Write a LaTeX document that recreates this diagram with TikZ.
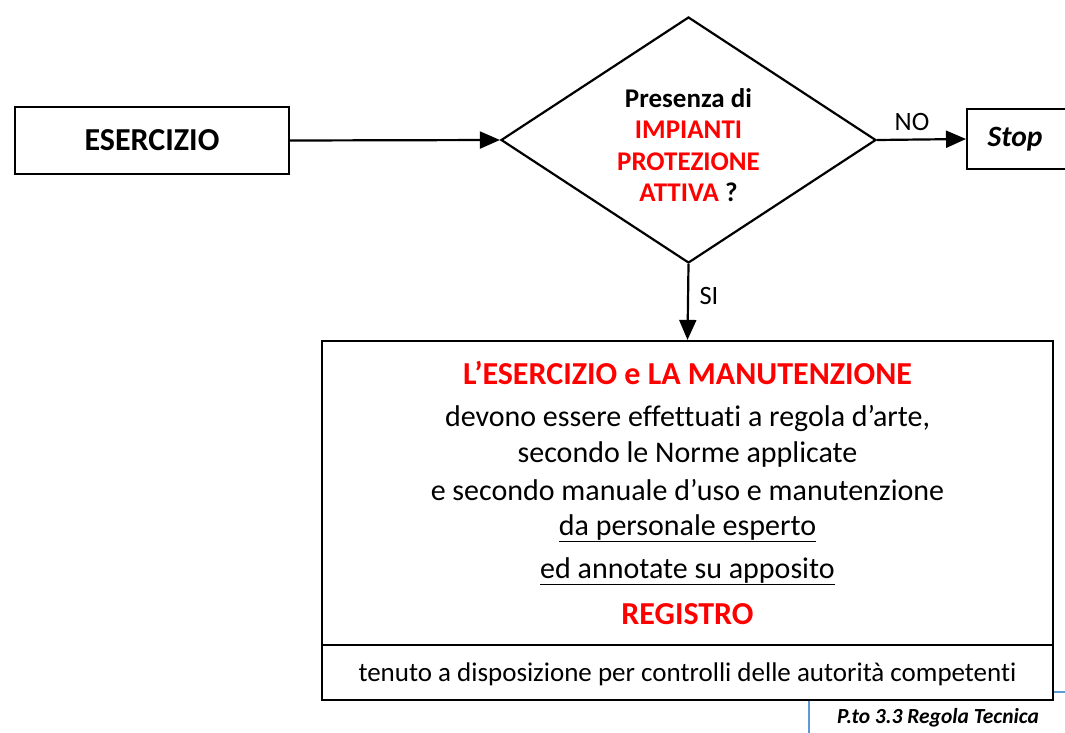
\documentclass[tikz,border=0pt]{standalone}
\usepackage{fontspec}
\setmainfont{Carlito}[Ligatures=NoCommon]
\usetikzlibrary{shapes.geometric,arrows.meta}
\definecolor{myred}{RGB}{255,0,0}
\definecolor{myblue}{RGB}{91,155,213}
\tikzset{
  boxn/.style={draw=black, line width=2.2pt, rectangle, inner sep=0pt},
  flow/.style={line width=2.2pt, -{Triangle[length=20pt,width=17pt]}},
  txt/.style={inner sep=0pt, align=center},
}
\begin{document}
\begin{tikzpicture}[x=1pt,y=-1pt]
\useasboundingbox (0,0) rectangle (1065,733);
% nodes
\node[boxn, minimum width=274pt, minimum height=67pt, font=\fontsize{32}{38}\selectfont\bfseries] (es) at (152,140.5) {ESERCIZIO};
\node[draw=black, line width=2.2pt, diamond, minimum width=375pt, minimum height=246pt, inner sep=0pt] (dq) at (688.5,140) {};
\node[txt, font=\fontsize{27}{31.5}\selectfont\bfseries] (dqt) at (688.5,145) {Presenza di\\ \textcolor{myred}{IMPIANTI}\\ \textcolor{myred}{PROTEZIONE}\\ \textcolor{myred}{ATTIVA} ?};
\node[boxn, minimum width=110pt, minimum height=60pt, anchor=west] (stop) at (966,139) {};
\node[txt, font=\fontsize{29.5}{34}\selectfont\bfseries\itshape] (stopt) at (1015,139) {Stop};
\node[boxn, minimum width=731pt, minimum height=304pt] (main) at (687.5,493) {};
\node[boxn, minimum width=731pt, minimum height=55pt] (foot) at (687.5,672.5) {};
% labels on connectors
\node[txt, font=\fontsize{26.5}{30}\selectfont] (no) at (912,122) {NO};
\node[txt, font=\fontsize{26.5}{30}\selectfont] (si) at (709,296) {SI};
% main text
\node[txt, font=\fontsize{32}{38}\selectfont\bfseries, text=myred] (t1) at (687.5,373) {L’ESERCIZIO e LA MANUTENZIONE};
\node[txt, font=\fontsize{30}{36}\selectfont] (t2) at (687.5,418) {devono essere effettuati a regola d’arte,};
\node[txt, font=\fontsize{30}{36}\selectfont] (t3) at (687.5,454) {secondo le Norme applicate};
\node[txt, font=\fontsize{30}{36}\selectfont] (t4) at (687.5,490) {e secondo manuale d’uso e manutenzione};
\node[txt, font=\fontsize{30}{36}\selectfont] (t5) at (687.5,528) {\underline{da personale esperto}};
\node[txt, font=\fontsize{30}{36}\selectfont] (t6) at (687.5,571) {\underline{ed annotate su apposito}};
\node[txt, font=\fontsize{32}{38}\selectfont\bfseries, text=myred] (t7) at (687.5,614) {REGISTRO};
\node[txt, font=\fontsize{27}{32}\selectfont] (t8) at (687.5,674) {tenuto a disposizione per controlli delle autorità competenti};
\node[txt, font=\fontsize{21.5}{26}\selectfont\bfseries\itshape] (ref) at (938,718) {P.to 3.3 Regola Tecnica};
% connectors
\draw[flow] (es.east) -- (dq.west);
\draw[flow] (dq.east) -- (stop.west);
\draw[flow] (dq.south) -- (main.north);
% blue lines
\coordinate (bl1) at (1065,692);
\coordinate (bl2) at (809,733);
\draw[myblue, line width=1.4pt] (main.east |- bl1) -- (bl1);
\draw[myblue, line width=1.4pt] (bl2 |- foot.south) -- (bl2);
\end{tikzpicture}
\end{document}
